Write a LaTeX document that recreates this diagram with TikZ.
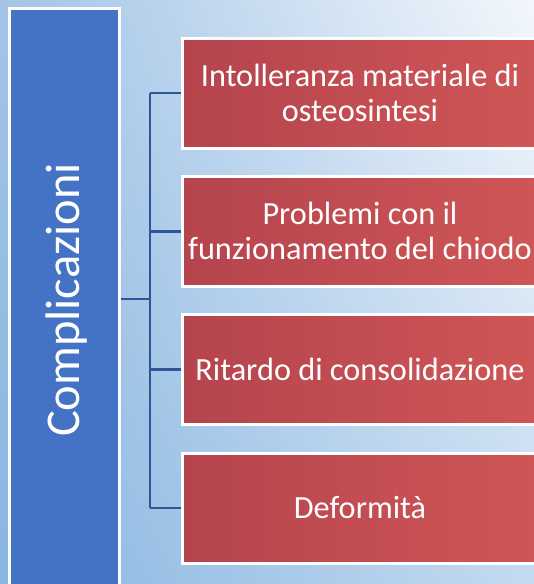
\documentclass[tikz,border=0pt]{standalone}
\usepackage{fontspec}
\setmainfont{Carlito}
\usetikzlibrary{shadings}
\definecolor{bluebox}{HTML}{4472C4}
\definecolor{connc}{HTML}{2F5597}
\definecolor{redL}{HTML}{B5444E}
\definecolor{redR}{HTML}{CF5656}
\definecolor{bgTL}{HTML}{A2C4E6}
\definecolor{bgTR}{HTML}{F3F7FC}
\definecolor{bgBL}{HTML}{88B6E1}
\definecolor{bgBR}{HTML}{C4DAF0}
\begin{document}
\begin{tikzpicture}[x=1pt,y=-1pt,
  leftbox/.style={draw=white, line width=3pt, fill=bluebox, minimum width=110pt, minimum height=581pt, inner sep=0pt},
  lefttext/.style={text=white, font=\fontsize{48.5}{56}\selectfont, rotate=90, inner sep=0pt, anchor=base},
  redbox/.style={draw=white, line width=3pt, left color=redL, right color=redR, text=white,
    font=\fontsize{32.3}{35}\selectfont, align=center, minimum width=356pt, minimum height=110pt,
    anchor=north west, inner sep=0pt},
  conn/.style={draw=connc, line width=2.8pt}]
\useasboundingbox (0,0) rectangle (534,584);
\clip (0,0) rectangle (534,584);
\shade[upper left=bgTL, upper right=bgTR, lower left=bgBL, lower right=bgBR] (0,0) rectangle (534,584);
\node[leftbox] (L) at (64.5,299) {};
\node[lefttext] (Lt) at ([xshift=14.5pt,yshift=-1pt]L.center) {Complicazioni};
\node[redbox] (b1) at (180.5,36.5) {Intolleranza materiale di\\osteosintesi};
\node[redbox] (b2) at (180.5,174.8) {Problemi con il\\funzionamento del chiodo};
\node[redbox] (b3) at (180.5,313.2) {Ritardo di consolidazione};
\node[redbox] (b4) at (180.5,451.5) {Deformità};
\coordinate (j) at (150,299);
\draw[conn] (L.east) -- (j);
\draw[conn] (j |- b1.west) -- (j |- b4.west);
\draw[conn] (j |- b1.west) -- (b1.west);
\draw[conn] (j |- b2.west) -- (b2.west);
\draw[conn] (j |- b3.west) -- (b3.west);
\draw[conn] (j |- b4.west) -- (b4.west);
\end{tikzpicture}
\end{document}
